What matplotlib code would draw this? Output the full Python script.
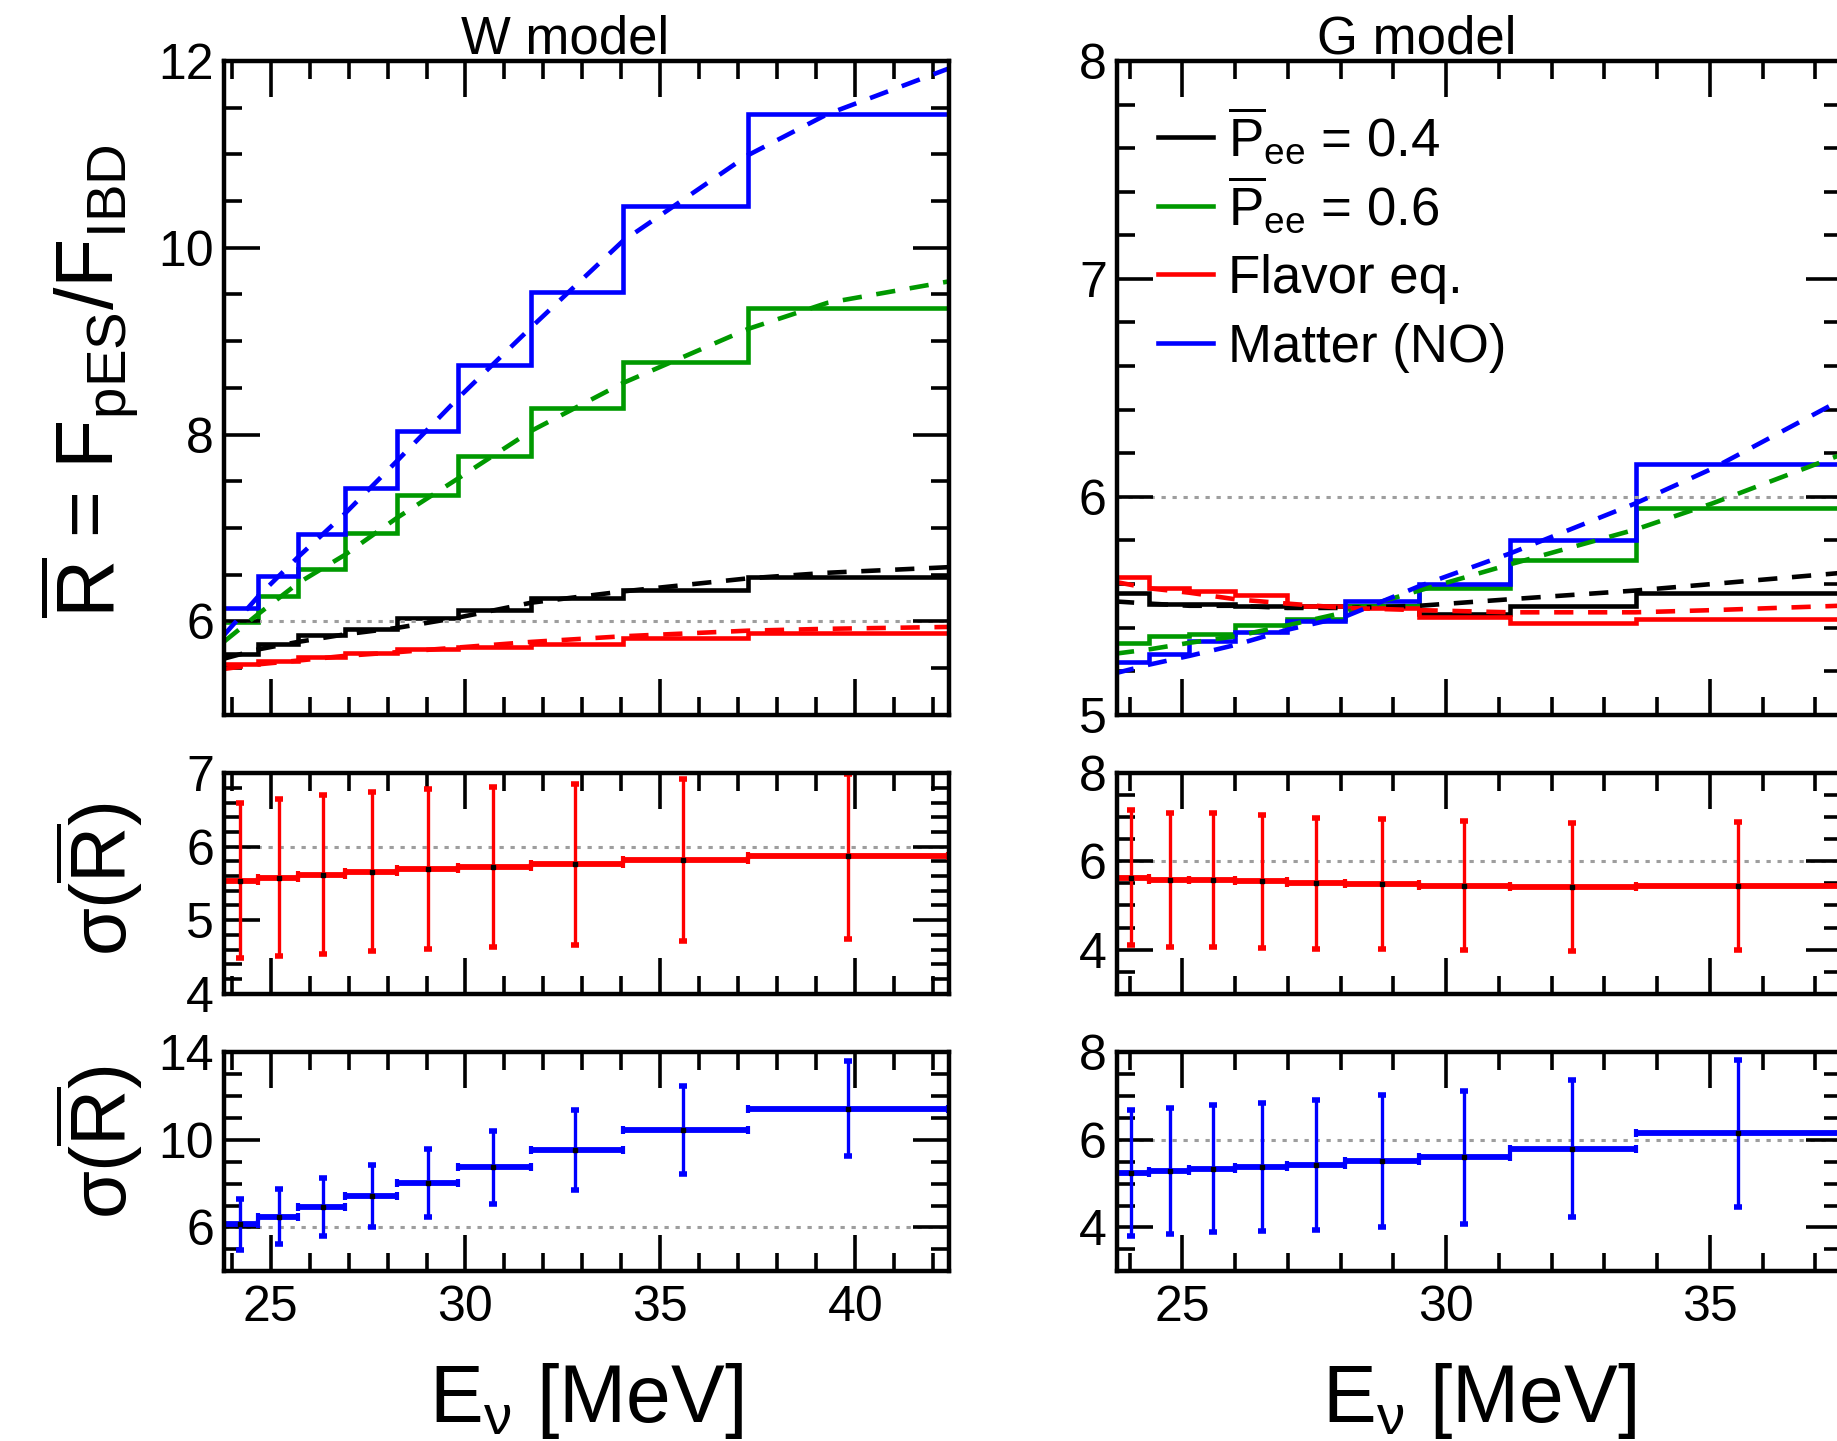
import numpy as np
import matplotlib
matplotlib.use('Agg')
from matplotlib import pyplot as plt
from matplotlib.ticker import MultipleLocator, FixedLocator

plt.rcParams['font.family'] = ['Liberation Sans', 'DejaVu Sans']
plt.rcParams['mathtext.fontset'] = 'custom'
plt.rcParams['mathtext.rm'] = 'Liberation Sans'
plt.rcParams['mathtext.it'] = 'Liberation Sans:italic'
plt.rcParams['mathtext.bf'] = 'Liberation Sans:bold'

# ---- W model ----
w_edges = [23.73, 24.69, 25.71, 26.90, 28.25, 29.81, 31.69, 34.03, 37.24, 42.38]
w_centers = [24.21, 25.21, 26.34, 27.59, 29.03, 30.71, 32.81, 35.59, 39.81]
w_p04 = [5.65, 5.76, 5.85, 5.92, 6.04, 6.12, 6.25, 6.34, 6.47]
w_p06 = [5.99, 6.27, 6.56, 6.95, 7.35, 7.77, 8.28, 8.78, 9.35]
w_flav = [5.54, 5.58, 5.62, 5.66, 5.70, 5.73, 5.76, 5.82, 5.87]
w_matter = [6.14, 6.49, 6.94, 7.43, 8.04, 8.74, 9.53, 10.45, 11.43]
w_flav_err = [1.06, 1.07, 1.08, 1.08, 1.09, 1.09, 1.10, 1.11, 1.12]
w_matter_err = [1.18, 1.25, 1.33, 1.41, 1.55, 1.67, 1.83, 2.01, 2.19]

w_curve_e = [23.8, 24.69, 25.71, 26.9, 28.25, 29.81, 31.69, 34.03, 37.24, 39.28, 42.4]
w_curve_p04 = [5.60, 5.70, 5.78, 5.86, 5.93, 6.04, 6.20, 6.32, 6.46, 6.52, 6.58]
w_curve_p06 = [5.78, 6.08, 6.41, 6.71, 7.11, 7.53, 8.04, 8.55, 9.13, 9.41, 9.64]
w_curve_flav = [5.49, 5.54, 5.58, 5.63, 5.67, 5.72, 5.78, 5.84, 5.90, 5.92, 5.94]
w_curve_matter = [5.85, 6.27, 6.69, 7.15, 7.72, 8.39, 9.15, 10.07, 10.99, 11.43, 11.92]

# ---- G model ----
g_edges = [23.69, 24.37, 25.13, 26.00, 26.99, 28.08, 29.49, 31.21, 33.59, 37.49]
g_centers = [24.03, 24.77, 25.57, 26.50, 27.54, 28.78, 30.33, 32.39, 35.54]
g_p04 = [5.56, 5.51, 5.51, 5.50, 5.50, 5.50, 5.46, 5.50, 5.56]
g_p06 = [5.33, 5.36, 5.37, 5.41, 5.44, 5.50, 5.58, 5.71, 5.95]
g_flav = [5.63, 5.58, 5.57, 5.55, 5.50, 5.49, 5.45, 5.42, 5.44]
g_matter = [5.24, 5.28, 5.34, 5.38, 5.43, 5.52, 5.60, 5.80, 6.15]
g_flav_err = [1.53, 1.53, 1.52, 1.51, 1.49, 1.48, 1.47, 1.46, 1.46]
g_matter_err = [1.43, 1.44, 1.45, 1.47, 1.48, 1.50, 1.52, 1.57, 1.68]

g_curve_e = [23.72, 24.37, 25.13, 26.0, 26.99, 28.08, 29.49, 31.21, 33.59, 35.05, 37.45]
g_curve_p04 = [5.52, 5.51, 5.50, 5.50, 5.49, 5.49, 5.50, 5.53, 5.57, 5.60, 5.65]
g_curve_p06 = [5.28, 5.30, 5.33, 5.36, 5.41, 5.47, 5.57, 5.69, 5.85, 5.97, 6.19]
g_curve_flav = [5.61, 5.58, 5.56, 5.53, 5.51, 5.49, 5.48, 5.47, 5.47, 5.48, 5.50]
g_curve_matter = [5.19, 5.23, 5.27, 5.32, 5.39, 5.45, 5.59, 5.74, 5.97, 6.13, 6.44]

labels = [r'$\overline{\mathrm{P}}_{\mathrm{ee}}$ = 0.4',
          r'$\overline{\mathrm{P}}_{\mathrm{ee}}$ = 0.6',
          'Flavor eq.', 'Matter (NO)']
colors = ['black', '#009900', 'red', 'blue']

fig = plt.figure(figsize=(18.37, 14.41), dpi=100)

col_x = [0.1218, 0.6078]
col_w = 0.3948
rows = [(0.504, 0.4537), (0.3105, 0.1528), (0.1178, 0.1520)]


def style(ax, xlim, ylim, ymaj, ymin, xlabels=False):
    ax.set_xlim(*xlim)
    ax.set_ylim(*ylim)
    ax.xaxis.set_major_locator(MultipleLocator(5))
    ax.xaxis.set_minor_locator(MultipleLocator(1))
    if isinstance(ymaj, list):
        ax.yaxis.set_major_locator(FixedLocator(ymaj))
    else:
        ax.yaxis.set_major_locator(MultipleLocator(ymaj))
    ax.yaxis.set_minor_locator(MultipleLocator(ymin))
    ax.tick_params(which='both', direction='in', top=True, right=True,
                   width=2.6, labelsize=36)
    ax.tick_params(which='major', length=26)
    ax.tick_params(which='minor', length=13)
    ax.tick_params(axis='y', pad=7)
    ax.tick_params(axis='x', pad=10, labelbottom=xlabels)
    for s in ax.spines.values():
        s.set_linewidth(3.2)
    ax.axhline(6, color='0.62', lw=2.2, ls=(0, (1.4, 2.2)), zorder=1)


def top_panel(ax, edges, vals, ce, curves):
    for v, c, col in zip(vals, curves, colors):
        ax.stairs(v, edges, baseline=None, color=col, lw=3.3)
        ax.plot(ce, c, color=col, lw=3.3, dashes=(4.2, 3.2))


def err_panel(ax, edges, centers, vals, err, col):
    edges = np.array(edges)
    centers = np.array(centers)
    xerr = [centers - edges[:-1], edges[1:] - centers]
    ax.errorbar(centers, vals, xerr=xerr, fmt='none', ecolor=col,
                elinewidth=4.2, capsize=3.0, capthick=3.0)
    ax.errorbar(centers, vals, yerr=err, fmt='none', ecolor=col,
                elinewidth=2.4, capsize=2.8, capthick=4.0)
    ax.plot(centers, vals, 's', color='black', ms=2.2, zorder=3)


# W model column
ax1 = fig.add_axes([col_x[0], rows[0][0], col_w, rows[0][1]])
top_panel(ax1, w_edges, [w_p04, w_p06, w_flav, w_matter], w_curve_e,
          [w_curve_p04, w_curve_p06, w_curve_flav, w_curve_matter])
style(ax1, (23.8, 42.4), (5, 12), 2, 0.5)

ax2 = fig.add_axes([col_x[0], rows[1][0], col_w, rows[1][1]])
err_panel(ax2, w_edges, w_centers, w_flav, w_flav_err, 'red')
style(ax2, (23.8, 42.4), (4, 7), 1, 0.2)

ax3 = fig.add_axes([col_x[0], rows[2][0], col_w, rows[2][1]])
err_panel(ax3, w_edges, w_centers, w_matter, w_matter_err, 'blue')
style(ax3, (23.8, 42.4), (4, 14), [6, 10, 14], 1, xlabels=True)

# G model column
ax4 = fig.add_axes([col_x[1], rows[0][0], col_w, rows[0][1]])
top_panel(ax4, g_edges, [g_p04, g_p06, g_flav, g_matter], g_curve_e,
          [g_curve_p04, g_curve_p06, g_curve_flav, g_curve_matter])
style(ax4, (23.75, 37.5), (5, 8), 1, 0.2)

# legend rows drawn by hand so the spacing stays even
for i, (lab, col) in enumerate(zip(labels, colors)):
    ly = 0.8835 - i * 0.105
    ax4.plot([0.0566, 0.1327], [ly, ly], color=col, lw=3.3,
             transform=ax4.transAxes, clip_on=False)
    ax4.text(0.1537, ly - 0.029, lab, fontsize=38, va='baseline',
             transform=ax4.transAxes)

ax5 = fig.add_axes([col_x[1], rows[1][0], col_w, rows[1][1]])
err_panel(ax5, g_edges, g_centers, g_flav, g_flav_err, 'red')
style(ax5, (23.75, 37.5), (3, 8), 2, 0.5)

ax6 = fig.add_axes([col_x[1], rows[2][0], col_w, rows[2][1]])
err_panel(ax6, g_edges, g_centers, g_matter, g_matter_err, 'blue')
style(ax6, (23.75, 37.5), (3, 8), 2, 0.5, xlabels=True)

fig.text(0.3074, 0.963, 'W model', fontsize=38, ha='center', va='baseline')
fig.text(0.7710, 0.963, 'G model', fontsize=38, ha='center', va='baseline')

fig.text(0.048, 0.7356, r'$\overline{\mathrm{R}}$ = F$_{\mathrm{pES}}$/F$_{\mathrm{IBD}}$',
         fontsize=58, rotation=90, ha='center', va='center')
fig.text(0.054, 0.390, r'σ($\overline{\mathrm{R}}$)', fontsize=56,
         rotation=90, ha='center', va='center')
fig.text(0.054, 0.2075, r'σ($\overline{\mathrm{R}}$)', fontsize=56,
         rotation=90, ha='center', va='center')

for x in [col_x[0] + col_w / 2, col_x[1] + col_w / 2]:
    fig.text(x, 0.013, r'E$_{\mathrm{\nu}}$ [MeV]', fontsize=58,
             ha='center', va='baseline')

fig.savefig('out.png', dpi=100)
